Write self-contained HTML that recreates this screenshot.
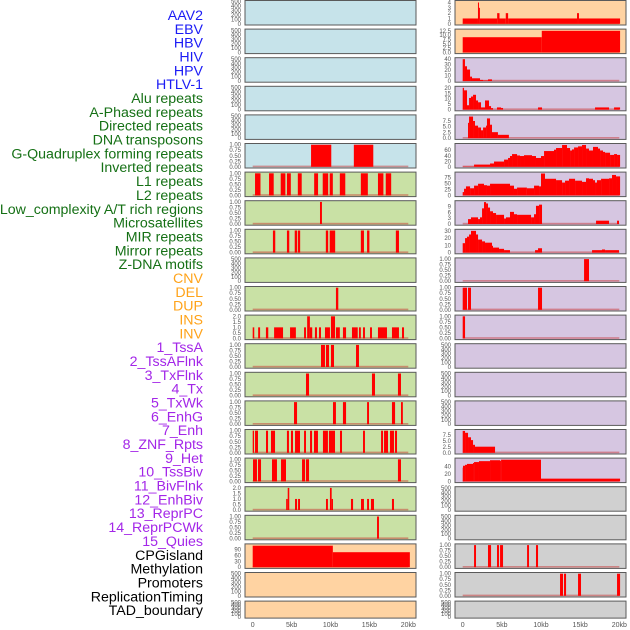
<!DOCTYPE html>
<html><head><meta charset="utf-8"><style>
html,body{margin:0;padding:0;background:#fff;}
svg{display:block;font-family:"Liberation Sans",sans-serif;}
</style></head><body>
<svg id="chart" width="630" height="630" viewBox="0 0 630 630"></svg>
<script>
const labels=["AAV2","EBV","HBV","HIV","HPV","HTLV-1","Alu repeats","A-Phased repeats","Directed repeats","DNA transposons","G-Quadruplex forming repeats","Inverted repeats","L1 repeats","L2 repeats","Low_complexity A/T rich regions","Microsatellites","MIR repeats","Mirror repeats","Z-DNA motifs","CNV","DEL","DUP","INS","INV","1_TssA","2_TssAFlnk","3_TxFlnk","4_Tx","5_TxWk","6_EnhG","7_Enh","8_ZNF_Rpts","9_Het","10_TssBiv","11_BivFlnk","12_EnhBiv","13_ReprPC","14_ReprPCWk","15_Quies","CPGisland","Methylation","Promoters","ReplicationTiming","TAD_boundary"];
const labelGroups=[6,13,5,15,5];
const xTicks=[0,5,10,15,20];
const xTickLabels=["0","5kb","10kb","15kb","20kb"];
const t500=[0,100,200,300,400,500];
const t1=[0,0.25,0.5,0.75,1];
const t2=[0,0.5,1,1.5,2];
const L5=[[7.5,10.1,1],[13.0,15.5,1]];
const L6=[[0.3,1.0,1],[2.1,2.7,1],[3.6,4.2,1],[4.4,4.9,1],[5.8,6.3,1],[7.9,8.4,1],[9.0,9.7,1],[9.9,10.3,1],[11.2,11.9,1],[13.9,14.8,1],[16.1,16.8,1],[17.1,17.8,1]];
const L7=[[8.65,8.9,1]];
const L8=[[2.6,2.9,1],[4.4,4.7,1],[5.4,5.7,1],[5.8,6.1,1],[9.4,9.7,1],[9.9,10.6,1],[13.9,14.3,1],[14.7,15.0,1],[18.4,18.8,1]];
const L10=[[10.7,11.0,1]];
const L11=[[0,0.2,1],[0.7,0.95,1],[1.7,2.0,1],[2.75,3.9,1],[4.8,5.55,1],[6.6,6.85,1],[7.0,7.35,2],[7.35,7.65,1],[8.0,8.26,1],[8.52,8.78,1],[9.29,9.93,1],[10.06,10.58,2],[10.7,11.2,1],[11.6,12.0,1],[12.76,13.5,1],[13.66,13.9,1],[14.18,14.43,1],[15.08,15.33,1],[16.1,17.26,1],[17.9,18.8,1],[19.19,19.45,1]];
const L12=[[8.78,9.29,1],[9.42,9.81,1],[10.06,10.45,1],[13.28,13.66,1]];
const L13=[[6.85,7.24,1],[15.33,15.72,1],[18.67,19.06,1]];
const L14=[[5.31,5.7,1],[10.32,10.7,1],[11.6,12.0,1],[14.7,14.95,1],[17.9,18.3,1],[19.06,19.3,1]];
const L15=[[0,0.17,1],[0.3,0.68,1],[1.71,1.97,1],[2.35,2.87,1],[4.4,4.66,1],[4.92,5.18,1],[5.44,6.08,1],[6.6,6.85,1],[7.37,7.63,1],[7.88,8.39,1],[9.03,9.67,1],[9.8,10.58,1],[11.22,11.48,1],[14.18,14.43,1],[16.5,16.75,1],[16.88,17.39,1],[17.65,18.16,1],[18.29,18.55,1]];
const L16=[[0.04,0.55,1],[0.68,1.07,1],[2.48,3.12,1],[3.64,4.28,1],[6.34,6.73,1],[6.85,7.24,1],[18.67,19.06,1]];
const L17=[[4.3,4.5,1],[4.5,4.7,2],[5.44,5.7,1],[5.83,6.08,1],[9.42,9.67,1],[9.93,10.15,2],[10.15,10.32,1],[12.63,12.9,1],[13.92,14.3,1],[14.7,14.95,1],[15.2,15.59,1],[17.9,18.16,1]];
const L18=[[15.98,16.23,1]];
const L19=[[0,10.3,109],[10.3,20.2,76]];
const R0=[[0,1.95,1],[1.95,2.08,4],[2.08,2.2,3],[2.2,4.4,1],[4.4,4.7,2],[4.7,5.5,1],[5.5,5.8,2],[5.8,14.6,1],[14.6,14.85,2],[14.85,20.1,1]];
const R1=[[0,10.1,8.8],[10.1,20.1,12.5]];
const R2=[[0,0.29,40],[0.29,0.55,27],[0.55,0.94,21],[0.94,1.19,8],[1.19,2.21,5],[2.21,2.59,2],[2.59,3.23,1],[3.23,3.74,3]];
const R3=[[0,0.17,20],[0.17,0.55,17.7],[0.55,0.81,4],[0.81,1.06,10.7],[1.06,1.32,12],[1.32,1.7,13.6],[1.7,1.96,8.4],[1.96,2.34,6.7],[2.34,2.85,2],[2.85,3.36,8.4],[3.36,3.62,3.2],[3.62,3.87,1.4],[4.38,4.9,2],[4.9,5.15,1.5],[9.62,10.13,2],[16.9,18.69,2],[19.33,20.1,2]];
const R4=[[0.68,0.81,6.6],[0.81,1.32,9.3],[1.32,1.57,7.4],[1.57,1.96,5.4],[1.96,2.34,4.6],[2.34,2.6,3.4],[2.6,2.98,4.6],[2.98,3.1,5.4],[3.1,3.49,8.5],[3.49,3.74,5.8],[3.74,4.5,2.6],[4.5,5.9,1.45]];
const R5=[[0,1.45,1],[1.45,3.49,8],[3.49,4.0,12],[4.0,5.28,19],[5.28,5.79,26],[5.79,6.04,32],[6.04,6.3,39],[6.3,6.94,46],[6.94,7.32,41],[7.32,7.83,39],[7.83,8.85,42],[8.85,9.36,39],[9.36,10.0,32],[10.0,10.39,39],[10.39,11.66,57],[11.66,11.92,62],[11.92,12.69,68],[12.69,13.32,79],[13.32,13.71,68],[13.71,13.96,59],[13.96,14.22,63],[14.22,14.73,70],[14.73,15.24,74],[15.24,15.75,79],[15.75,16.13,66],[16.13,16.64,59],[16.64,17.28,72],[17.28,17.54,66],[17.54,17.92,59],[17.92,18.18,54],[18.18,18.82,51],[18.82,19.33,43],[19.33,19.71,46],[19.71,20.1,43]];
const R6=[[0,0.17,14],[0.17,0.42,28],[0.42,0.94,38],[0.94,1.45,30],[1.45,1.96,41],[1.96,2.72,49],[2.72,3.1,43],[3.1,3.49,41],[3.49,6.04,49],[6.04,6.55,41],[6.55,6.94,28],[6.94,8.2,33],[8.2,9.11,30],[9.11,9.75,41],[9.75,10.0,38],[10.0,10.51,92],[10.51,11.92,70],[11.92,12.69,64],[12.69,13.07,54],[13.07,13.58,62],[13.58,14.35,70],[14.35,15.24,62],[15.24,15.75,57],[15.75,16.13,72],[16.13,16.64,70],[16.64,16.9,64],[16.9,17.15,54],[17.15,17.67,64],[17.67,18.69,70],[18.69,19.07,72],[19.07,19.58,86],[19.58,20.1,80]];
const R7=[[0.68,1.06,2.5],[1.06,1.96,3.4],[1.96,2.21,2.5],[2.21,2.47,3.4],[2.47,2.72,8],[2.72,2.98,11.2],[2.98,3.23,10.5],[3.23,3.49,8.4],[3.49,3.87,6.5],[3.87,4.26,5.6],[4.26,5.28,4.7],[5.28,5.53,2.8],[5.53,6.04,3.4],[6.04,6.55,6.2],[6.55,6.94,5],[6.94,8.73,4.7],[8.73,9.11,3.4],[9.11,9.36,5],[9.36,9.75,9.3],[9.75,10.13,9.9],[17.03,18.69,1.7],[19.71,19.96,1.7]];
const R8=[[0,0.3,13],[0.3,0.55,20],[0.55,0.81,22],[0.81,1.06,25],[1.06,1.7,30],[1.7,1.96,25],[1.96,2.47,18],[2.47,2.85,15.5],[2.85,3.74,13.7],[3.74,3.87,9.4],[3.87,4.64,6.9],[4.64,5.28,5.2],[5.28,6.04,3.4],[9.24,9.62,3.4],[9.62,10.13,6],[16.52,17.79,3.4],[17.79,18.18,4.3],[18.18,19.96,3.4]];
const R9=[[15.5,16.13,1]];
const R10=[[0,0.55,1],[0.68,1.06,1],[9.62,10.13,1]];
const R11=[[0,0.3,1]];
const R15=[[0,0.3,9.3],[0.3,0.68,8.5],[0.68,1.06,6.6],[1.06,1.32,5.4],[1.32,1.57,3.4],[1.57,4.13,2.6]];
const R16=[[0,0.04,37.5],[0.04,0.3,42.5],[0.3,0.55,45],[0.55,1.32,47.5],[1.32,1.45,50],[1.45,2.08,52.5],[2.08,3.49,55],[3.49,4.77,57.5],[4.77,4.9,56],[4.9,10.0,59],[10.0,20.1,7.5]];
const R19=[[1.45,1.7,1],[3.23,3.62,1],[4.38,4.64,1],[4.77,5.15,1],[8.22,8.47,1],[9.36,9.62,1]];
const R20=[[12.43,12.81,1],[12.94,13.2,1],[14.73,15.11,1],[19.71,20.1,1]];

const BL="#c6e3ea",GR="#c9e1a5",OR="#ffd3a2",PU="#d6c6e1",GY="#d0d0d0";
const E=null;
const leftPanels=[
 [BL,E,t500,500],[BL,E,t500,500],[BL,E,t500,500],[BL,E,t500,500],[BL,E,t500,500],
 [BL,L5,t1,1],[GR,L6,t1,1],[GR,L7,t1,1],[GR,L8,t1,1],[GR,E,t500,500],[GR,L10,t1,1],
 [GR,L11,t2,2],[GR,L12,t1,1],[GR,L13,t1,1],[GR,L14,t1,1],[GR,L15,t1,1],[GR,L16,t1,1],
 [GR,L17,t2,2],[GR,L18,t1,1],[OR,L19,[0,30,60,90],112],[OR,E,t500,500],[OR,E,t500,500]];
const rightPanels=[
 [OR,R0,[0,1,2,3,4],4.15],[OR,R1,[0,2.5,5,7.5,10,12.5],12.8],[PU,R2,[0,10,20,30,40],40.5],
 [PU,R3,[0,5,10,15,20],20.3],[PU,R4,[0,2.5,5,7.5],9.5],[PU,R5,[0,20,40,60],80],
 [PU,R6,[0,25,50,75],93],[PU,R7,[0,3,6,9],11.3],[PU,R8,[0,10,20,30],30.5],
 [PU,R9,t1,1],[PU,R10,t1,1],[PU,R11,t1,1],[PU,E,t500,500],[PU,E,t500,500],[PU,E,t500,500],
 [PU,R15,[0,2.5,5,7.5],9.4],[PU,R16,[0,20,40],60],[GY,E,t500,500],[GY,E,t500,500],
 [GY,R19,t1,1],[GY,R20,t1,1],[GY,E,t500,500]];

const svg=document.getElementById('chart');
const NS="http://www.w3.org/2000/svg";
function mk(tag,attrs,parent){const e=document.createElementNS(NS,tag);for(const k in attrs)e.setAttribute(k,attrs[k]);(parent||svg).appendChild(e);return e;}
function fmt(v,ticks){const dec=ticks.some(t=>t%1!==0);if(!dec)return String(v);const d=ticks.some(t=>(t*100)%50!==0&&(t*10)%1!==0)?2:1;return v.toFixed(d);}

const groupColors=["#1b1bf5","#157015","#ffa31a","#a326e8","#000000"];
let gi=0,gc=0;
labels.forEach((lb,i)=>{
 const t=mk('text',{x:203,y:15+i*13.84+5,'text-anchor':'end','font-size':14.2,fill:groupColors[gi]});
 t.textContent=lb;
 
 
 gc++; if(gc>=labelGroups[gi]){gi++;gc=0;}
});

function drawCol(panels,px0,pw,x0,kbScale,tickX,col){
 panels.forEach((p,i)=>{
  const [bg,segs,ticks,ymax]=p;
  const top=i*28.6+0.5, h=(i===21)?17:24.5, bot=top+h;
  const y=v=>bot-1.2-(v/ymax)*(h-2.4);
  const xs=kb=>x0+kb*kbScale;
  const g=mk('g',{});
  
  
  const r=mk('rect',{x:px0,y:top,width:pw,height:h,fill:bg,stroke:'#5a5a5a','stroke-width':1},g);
  
  
  ticks.forEach(t=>{
   const tl=mk('text',{x:tickX,y:y(t)+2,'text-anchor':'end','font-size':6,fill:'#555'},g);
   tl.textContent=fmt(t,ticks);
   
   
  });
  if(segs){
   const bl=mk('rect',{x:xs(0),y:y(0)-1.2,width:xs(20)-xs(0),height:1.6,fill:'rgba(200,40,40,0.45)'},g);
   
   
   segs.forEach(s=>{
    const b=mk('rect',{x:xs(s[0]),y:y(s[2]),width:Math.max(0.8,xs(s[1])-xs(s[0])),height:y(0)-y(s[2]),fill:'#ff0000'},g);
    
    
   });
  }
 });
 xTicks.forEach((t,k)=>{
  const tl=mk('text',{x:x0+t*kbScale,y:627,'text-anchor':'middle','font-size':7,fill:'#555'});
  tl.textContent=xTickLabels[k];
  
  
 });
}
drawCol(leftPanels,245,171,252.7,7.78,241,'left');
drawCol(rightPanels,455,171,462.7,7.83,451,'right');
</script>
</body></html>
